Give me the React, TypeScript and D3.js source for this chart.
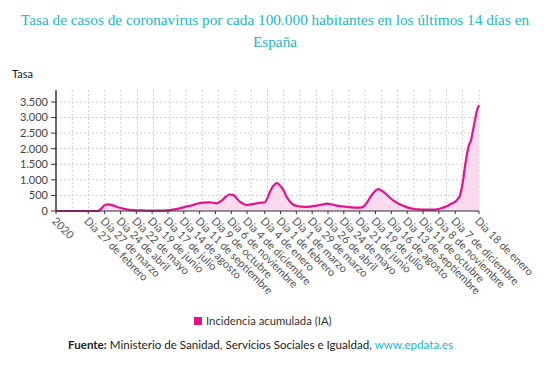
import React from "react";
import * as d3 from "d3";

// Tasa de casos (IA 14 días) en España, lecturas aproximadas del gráfico
const dates = [
  "2020-01-01", "2020-03-15", "2020-03-20", "2020-03-26", "2020-04-02", "2020-04-09",
  "2020-04-17", "2020-04-26", "2020-05-05", "2020-05-16", "2020-05-28", "2020-06-15",
  "2020-07-03", "2020-07-15", "2020-07-25", "2020-08-07", "2020-08-18", "2020-08-30",
  "2020-09-08", "2020-09-17", "2020-09-29", "2020-10-11", "2020-10-20", "2020-10-27",
  "2020-11-03", "2020-11-09", "2020-11-15", "2020-11-21", "2020-11-27", "2020-12-03",
  "2020-12-09", "2020-12-15", "2020-12-21", "2020-12-27", "2021-01-04", "2021-01-09",
  "2021-01-13", "2021-01-19", "2021-01-26", "2021-01-31", "2021-02-06", "2021-02-12",
  "2021-02-18", "2021-02-24", "2021-03-02", "2021-03-10", "2021-03-19", "2021-03-28",
  "2021-04-06", "2021-04-15", "2021-04-24", "2021-05-03", "2021-05-11", "2021-05-20",
  "2021-05-29", "2021-06-07", "2021-06-16", "2021-06-22", "2021-06-27", "2021-07-03",
  "2021-07-09", "2021-07-15", "2021-07-20", "2021-07-24", "2021-07-30", "2021-08-05",
  "2021-08-12", "2021-08-20", "2021-08-29", "2021-09-07", "2021-09-16", "2021-09-25",
  "2021-10-03", "2021-10-12", "2021-10-24", "2021-11-05", "2021-11-14", "2021-11-23",
  "2021-11-30", "2021-12-07", "2021-12-12", "2021-12-15", "2021-12-18", "2021-12-21",
  "2021-12-24", "2021-12-27", "2021-12-31", "2022-01-04", "2022-01-07", "2022-01-11",
  "2022-01-14", "2022-01-18",
];
const values = [
  0, 0, 60, 170, 215, 190,
  140, 90, 54, 30, 20, 10,
  10, 20, 45, 86, 140, 193,
  240, 270, 280, 247, 333, 450,
  530, 516, 420, 300, 230, 193,
  205, 225, 250, 265, 280, 420,
  600, 800, 892, 820, 677, 450,
  300, 200, 160, 140, 130, 150,
  172, 205, 236, 210, 172, 150,
  130, 115, 108, 110, 135, 247,
  420, 570, 670, 700, 650, 570,
  450, 333, 230, 161, 100, 65,
  50, 43, 45, 54, 100, 161,
  230, 300, 400, 480, 700, 1000,
  1400, 1750, 2100, 2280, 2550, 2930,
  3200, 3400,
];

const tickDates = [
  "2020-01-01", "2020-02-27", "2020-03-27", "2020-04-24", "2020-05-22", "2020-06-19",
  "2020-07-17", "2020-08-14", "2020-09-11", "2020-10-09", "2020-11-06", "2020-12-04",
  "2021-01-04", "2021-02-01", "2021-03-01", "2021-03-29", "2021-04-26", "2021-05-24",
  "2021-06-21", "2021-07-19", "2021-08-16", "2021-09-13", "2021-10-11", "2021-11-08",
  "2021-12-07", "2022-01-18",
];
const tickLabels = [
  "2020", "Día 27 de febrero", "Día 27 de marzo", "Día 24 de abril", "Día 22 de mayo",
  "Día 19 de junio", "Día 17 de julio", "Día 14 de agosto", "Día 11 de septiembre",
  "Día 9 de octubre", "Día 6 de noviembre", "Día 4 de diciembre", "Día 4 de enero",
  "Día 1 de febrero", "Día 1 de marzo", "Día 29 de marzo", "Día 26 de abril",
  "Día 24 de mayo", "Día 21 de junio", "Día 19 de julio", "Día 16 de agosto",
  "Día 13 de septiembre", "Día 11 de octubre", "Día 8 de noviembre",
  "Día 7 de diciembre", "Día 18 de enero",
];
const yTicks = [0, 500, 1000, 1500, 2000, 2500, 3000, 3500];

const W = 550;
const H = 373;
const left = 56;
const right = 479;
const top = 90;
const bottom = 211;
const pink = "#e5138b";
const teal = "#22b6c6";
const sans = "Lato, 'Open Sans', sans-serif";

const parse = d3.timeParse("%Y-%m-%d");
const fmt = (v: number) => d3.format(",")(v).replace(/,/g, ".");

export default function App() {
  const pts = dates.map((d, i) => ({ date: parse(d) as Date, value: values[i] }));

  const x = d3
    .scaleTime()
    .domain([pts[0].date, pts[pts.length - 1].date])
    .range([left, right]);
  const y = d3.scaleLinear().domain([0, 3885]).range([bottom, top]);

  // rejilla vertical uniforme como en el original
  const gridX = d3.scaleLinear().domain([0, 26]).range([left, right]);
  const gridCols = d3.range(1, 27);

  const line = d3
    .line<{ date: Date; value: number }>()
    .x((d) => x(d.date))
    .y((d) => y(d.value))
    .curve(d3.curveMonotoneX);
  const area = d3
    .area<{ date: Date; value: number }>()
    .x((d) => x(d.date))
    .y0(y(0))
    .y1((d) => y(d.value))
    .curve(d3.curveMonotoneX);

  return (
    <svg
      width={W}
      height={H}
      style={{ position: "absolute", left: 0, top: 0, background: "#fff" }}
    >
      <text
        x={W / 2}
        y={25}
        textAnchor="middle"
        fill={teal}
        fontFamily="'Liberation Serif', serif"
        fontSize={15.3}
      >
        Tasa de casos de coronavirus por cada 100.000 habitantes en los últimos 14 días en
      </text>
      <text
        x={W / 2}
        y={47}
        textAnchor="middle"
        fill={teal}
        fontFamily="'Liberation Serif', serif"
        fontSize={15.3}
      >
        España
      </text>

      <text x={12} y={78} fontFamily={sans} fontSize={11} fill="#222">
        Tasa
      </text>

      {/* rejilla */}
      <g stroke="#cfcfcf" strokeDasharray="2,2" strokeWidth={1}>
        {yTicks.slice(1).map((t) => (
          <line key={"h" + t} x1={left} x2={right} y1={y(t)} y2={y(t)} />
        ))}
        {gridCols.map((i) => (
          <line key={"v" + i} x1={gridX(i)} x2={gridX(i)} y1={top} y2={bottom} />
        ))}
      </g>

      <path d={area(pts) || ""} fill="#fbd3ea" opacity={0.85} />
      <path d={line(pts) || ""} fill="none" stroke={pink} strokeWidth={2.2} />

      {/* eje y */}
      <line x1={left} x2={left} y1={top} y2={bottom} stroke="#333" strokeWidth={1.5} />
      {yTicks.map((t) => (
        <g key={"yt" + t} transform={`translate(0,${y(t)})`}>
          <line x1={left - 5} x2={left} stroke="#333" />
          <text
            x={left - 8}
            dy="0.35em"
            textAnchor="end"
            fontFamily={sans}
            fontSize={11}
            fill="#444"
          >
            {fmt(t)}
          </text>
        </g>
      ))}

      {/* eje x */}
      <line x1={left} x2={right} y1={bottom} y2={bottom} stroke="#333" strokeWidth={1} />
      {tickDates.map((d, i) => {
        const tx = x(parse(d) as Date);
        return (
          <g key={"xt" + d}>
            <line x1={tx} x2={tx} y1={bottom} y2={bottom + 3} stroke="#333" />
            <text
              transform={`translate(${tx + 1},${bottom + 5}) rotate(45)`}
              dy="0.75em"
              fontFamily={sans}
              fontSize={11}
              fill="#555"
            >
              {tickLabels[i]}
            </text>
          </g>
        );
      })}

      {/* leyenda */}
      <rect x={194} y={317} width={8} height={8} fill={pink} />
      <text x={206} y={325} fontFamily={sans} fontSize={11.3} fill="#333">
        Incidencia acumulada (IA)
      </text>

      <text x={68} y={349} fontFamily={sans} fontSize={11.6} fill="#222">
        <tspan fontWeight="bold">Fuente:</tspan> Ministerio de Sanidad, Servicios
        Sociales e Igualdad, <tspan fill={teal}>www.epdata.es</tspan>
      </text>
    </svg>
  );
}
